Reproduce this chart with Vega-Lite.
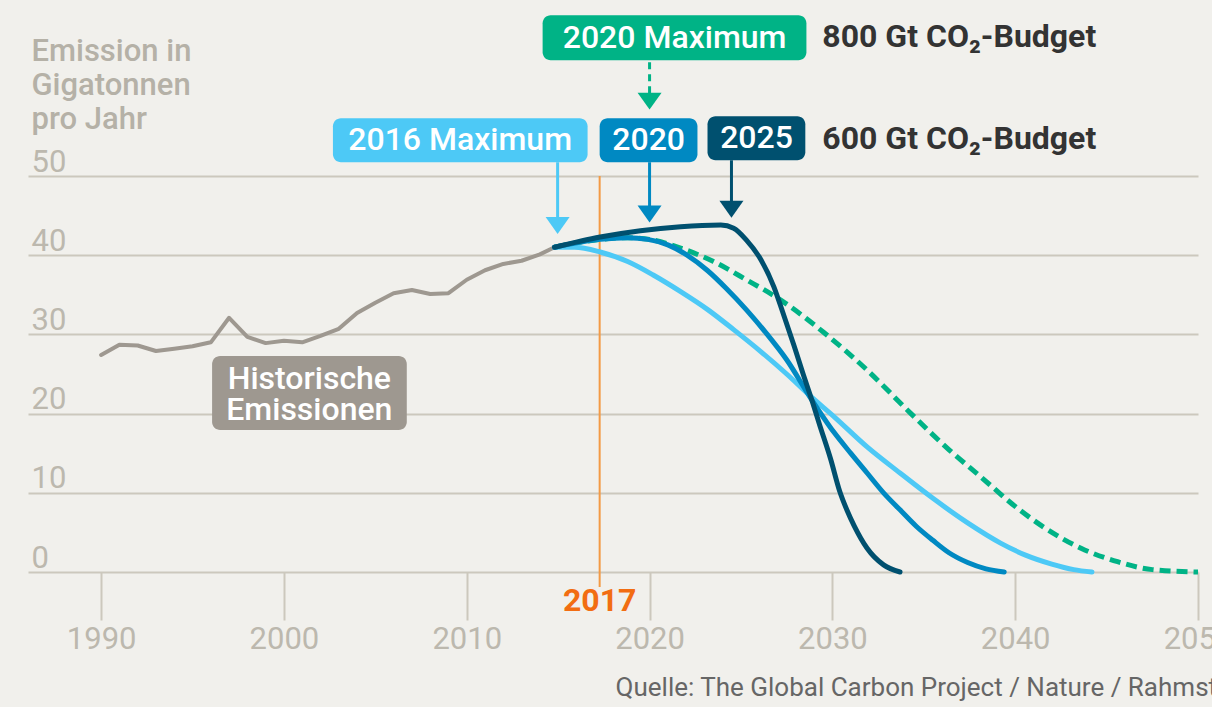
{
  "$schema": "https://vega.github.io/schema/vega-lite/v6.json",
  "width": 1170,
  "height": 396,
  "autosize": {"type": "none"},
  "padding": {"left": 28, "top": 176, "right": 14, "bottom": 135},
  "background": "#f1f0ec",
  "config": {"font": "Roboto", "view": {"stroke": null}},
  "resolve": {"axis": {"x": "independent", "y": "independent"}},
  "data": {"values": [{}]},
  "datasets": {
    "lines": [
      {"key": "hist", "year": 1990, "value": 27.4},
      {"key": "hist", "year": 1991, "value": 28.7},
      {"key": "hist", "year": 1992, "value": 28.6},
      {"key": "hist", "year": 1993, "value": 27.9},
      {"key": "hist", "year": 1994, "value": 28.2},
      {"key": "hist", "year": 1995, "value": 28.5},
      {"key": "hist", "year": 1996, "value": 29.0},
      {"key": "hist", "year": 1997, "value": 32.1},
      {"key": "hist", "year": 1998, "value": 29.7},
      {"key": "hist", "year": 1999, "value": 28.9},
      {"key": "hist", "year": 2000, "value": 29.2},
      {"key": "hist", "year": 2001, "value": 29.0},
      {"key": "hist", "year": 2002, "value": 29.8},
      {"key": "hist", "year": 2003, "value": 30.7},
      {"key": "hist", "year": 2004, "value": 32.7},
      {"key": "hist", "year": 2005, "value": 34.0},
      {"key": "hist", "year": 2006, "value": 35.2},
      {"key": "hist", "year": 2007, "value": 35.6},
      {"key": "hist", "year": 2008, "value": 35.1},
      {"key": "hist", "year": 2009, "value": 35.2},
      {"key": "hist", "year": 2010, "value": 36.9},
      {"key": "hist", "year": 2011, "value": 38.1},
      {"key": "hist", "year": 2012, "value": 38.9},
      {"key": "hist", "year": 2013, "value": 39.3},
      {"key": "hist", "year": 2014, "value": 40.1},
      {"key": "hist", "year": 2014.8, "value": 41.0},

      {"key": "m800", "year": 2014.8, "value": 41.0},
      {"key": "m800", "year": 2017.3, "value": 42.0},
      {"key": "m800", "year": 2018.8, "value": 42.2},
      {"key": "m800", "year": 2020.0, "value": 42.0},
      {"key": "m800", "year": 2021.7, "value": 40.9},
      {"key": "m800", "year": 2023.5, "value": 39.2},
      {"key": "m800", "year": 2025.3, "value": 36.9},
      {"key": "m800", "year": 2027.2, "value": 34.3},
      {"key": "m800", "year": 2029.5, "value": 30.3},
      {"key": "m800", "year": 2031.9, "value": 25.5},
      {"key": "m800", "year": 2034.3, "value": 20.0},
      {"key": "m800", "year": 2036.4, "value": 15.4},
      {"key": "m800", "year": 2038.1, "value": 12.05},
      {"key": "m800", "year": 2040.1, "value": 8.1},
      {"key": "m800", "year": 2041.6, "value": 5.6},
      {"key": "m800", "year": 2043.6, "value": 3.0},
      {"key": "m800", "year": 2045.6, "value": 1.3},
      {"key": "m800", "year": 2047.5, "value": 0.3},
      {"key": "m800", "year": 2050.0, "value": 0.0},

      {"key": "s2016", "year": 2014.8, "value": 41.0},
      {"key": "s2016", "year": 2015.9, "value": 41.0},
      {"key": "s2016", "year": 2017.3, "value": 40.4},
      {"key": "s2016", "year": 2018.8, "value": 39.2},
      {"key": "s2016", "year": 2020.2, "value": 37.5},
      {"key": "s2016", "year": 2021.7, "value": 35.4},
      {"key": "s2016", "year": 2023.2, "value": 33.1},
      {"key": "s2016", "year": 2024.6, "value": 30.6},
      {"key": "s2016", "year": 2026.1, "value": 27.8},
      {"key": "s2016", "year": 2027.5, "value": 25.0},
      {"key": "s2016", "year": 2028.8, "value": 22.2},
      {"key": "s2016", "year": 2030.1, "value": 19.6},
      {"key": "s2016", "year": 2031.9, "value": 15.8},
      {"key": "s2016", "year": 2033.7, "value": 12.5},
      {"key": "s2016", "year": 2035.5, "value": 9.3},
      {"key": "s2016", "year": 2037.4, "value": 6.2},
      {"key": "s2016", "year": 2039.2, "value": 3.65},
      {"key": "s2016", "year": 2040.6, "value": 2.1},
      {"key": "s2016", "year": 2042.0, "value": 1.0},
      {"key": "s2016", "year": 2043.2, "value": 0.3},
      {"key": "s2016", "year": 2044.2, "value": 0.0},

      {"key": "s2020", "year": 2014.8, "value": 41.0},
      {"key": "s2020", "year": 2017.3, "value": 42.0},
      {"key": "s2020", "year": 2018.8, "value": 42.2},
      {"key": "s2020", "year": 2019.9, "value": 42.0},
      {"key": "s2020", "year": 2021.0, "value": 41.3},
      {"key": "s2020", "year": 2022.05, "value": 40.0},
      {"key": "s2020", "year": 2023.15, "value": 38.1},
      {"key": "s2020", "year": 2024.2, "value": 35.8},
      {"key": "s2020", "year": 2025.3, "value": 33.1},
      {"key": "s2020", "year": 2026.4, "value": 30.1},
      {"key": "s2020", "year": 2027.5, "value": 26.8},
      {"key": "s2020", "year": 2028.8, "value": 22.0},
      {"key": "s2020", "year": 2030.1, "value": 17.6},
      {"key": "s2020", "year": 2031.0, "value": 15.0},
      {"key": "s2020", "year": 2031.9, "value": 12.5},
      {"key": "s2020", "year": 2032.8, "value": 10.0},
      {"key": "s2020", "year": 2033.7, "value": 7.85},
      {"key": "s2020", "year": 2034.6, "value": 5.75},
      {"key": "s2020", "year": 2035.5, "value": 4.0},
      {"key": "s2020", "year": 2036.4, "value": 2.4},
      {"key": "s2020", "year": 2037.4, "value": 1.2},
      {"key": "s2020", "year": 2038.4, "value": 0.4},
      {"key": "s2020", "year": 2039.4, "value": 0.0},

      {"key": "s2025", "year": 2014.8, "value": 41.0},
      {"key": "s2025", "year": 2017.3, "value": 42.3},
      {"key": "s2025", "year": 2019.5, "value": 43.1},
      {"key": "s2025", "year": 2021.7, "value": 43.6},
      {"key": "s2025", "year": 2023.9, "value": 43.8},
      {"key": "s2025", "year": 2024.6, "value": 43.4},
      {"key": "s2025", "year": 2025.3, "value": 41.9},
      {"key": "s2025", "year": 2026.1, "value": 39.4},
      {"key": "s2025", "year": 2026.8, "value": 36.0},
      {"key": "s2025", "year": 2027.3, "value": 32.7},
      {"key": "s2025", "year": 2027.9, "value": 28.6},
      {"key": "s2025", "year": 2028.4, "value": 25.0},
      {"key": "s2025", "year": 2028.85, "value": 21.9},
      {"key": "s2025", "year": 2029.3, "value": 18.6},
      {"key": "s2025", "year": 2029.9, "value": 14.3},
      {"key": "s2025", "year": 2030.4, "value": 10.2},
      {"key": "s2025", "year": 2030.8, "value": 7.8},
      {"key": "s2025", "year": 2031.2, "value": 5.8},
      {"key": "s2025", "year": 2031.9, "value": 3.0},
      {"key": "s2025", "year": 2032.8, "value": 0.9},
      {"key": "s2025", "year": 2033.7, "value": 0.0}
    ],
    "boxes": [
      {"key": "m800", "label": "2020 Maximum", "x0": 2014.15, "x1": 2028.58, "y0": 64.6, "y1": 70.3, "lx": 2021.37, "ly": 67.44},
      {"key": "s2016", "label": "2016 Maximum", "x0": 2002.68, "x1": 2016.61, "y0": 51.74, "y1": 57.29, "lx": 2009.64, "ly": 54.51},
      {"key": "s2020", "label": "2020", "x0": 2017.27, "x1": 2022.62, "y0": 51.74, "y1": 57.29, "lx": 2019.95, "ly": 54.51},
      {"key": "s2025", "label": "2025", "x0": 2023.17, "x1": 2028.52, "y0": 51.99, "y1": 57.54, "lx": 2025.85, "ly": 54.77},
      {"key": "hist", "label": "Historische\nEmissionen", "x0": 1996.07, "x1": 2006.72, "y0": 17.94, "y1": 27.27, "lx": 2001.39, "ly": 24.4}
    ],
    "arrows": [
      {"key": "s2016", "x": 2014.97, "ytop": 51.74, "ybot": 44.5, "yhead": 43.75},
      {"key": "s2020", "x": 2020.0, "ytop": 51.74, "ybot": 46.0, "yhead": 45.2},
      {"key": "s2025", "x": 2024.48, "ytop": 51.99, "ybot": 46.6, "yhead": 45.8},
      {"key": "m800", "x": 2020.0, "ytop": 64.35, "ybot": 60.3, "yhead": 59.45}
    ]
  },
  "layer": [
    {
      "data": {"name": "lines"},
      "transform": [{"filter": "datum.key === 'hist'"}],
      "mark": {"type": "line", "strokeWidth": 4, "strokeJoin": "round", "strokeCap": "round"},
      "encoding": {
        "x": {"field": "year", "type": "quantitative",
          "scale": {"domain": [1986, 2050], "nice": false, "zero": false},
          "axis": {"values": [1990, 2000, 2010, 2020, 2030, 2040, 2050], "format": "d", "title": null,
            "domain": false, "grid": false, "ticks": true, "tickSize": 48, "tickColor": "#ccc8bd", "tickWidth": 2,
            "labelFont": "Roboto", "labelFontSize": 31, "labelColor": "#bcb8ae", "labelPadding": 28,
            "labelBaseline": "alphabetic", "labelFlush": false, "labelOverlap": false, "labelBound": false}},
        "y": {"field": "value", "type": "quantitative",
          "scale": {"domain": [0, 50], "nice": false, "zero": false},
          "axis": {"values": [0, 10, 20, 30, 40, 50], "grid": true, "gridColor": "#ccc8bd", "gridWidth": 2,
            "domain": false, "ticks": false, "tickSize": 0, "labelAlign": "left", "labelBaseline": "alphabetic",
            "labelPadding": -3, "labelOffset": -5, "labelFont": "Roboto", "labelFontSize": 31, "labelColor": "#bcb8ae",
            "title": ["Emission in", "Gigatonnen", "pro Jahr"], "titleAngle": 0, "titleAlign": "left",
            "titleBaseline": "alphabetic", "titleX": 3, "titleY": -116, "titleFont": "Roboto", "titleFontSize": 31,
            "titleFontWeight": 500, "titleColor": "#b5b1a7", "titleLineHeight": 34}},
        "color": {"field": "key", "type": "nominal", "legend": null,
          "scale": {"domain": ["hist", "s2016", "s2020", "s2025", "m800"], "range": ["#9e9890", "#4dc9f6", "#0089c2", "#00506f", "#00b386"]}}
      }
    },
    {
      "mark": {"type": "rule", "color": "#f39a45", "strokeWidth": 2},
      "encoding": {
        "x": {"datum": 2017.27, "type": "quantitative", "scale": {"domain": [1986, 2050], "nice": false, "zero": false}, "axis": null},
        "y": {"datum": 50, "type": "quantitative", "scale": {"domain": [0, 50], "nice": false, "zero": false}, "axis": null},
        "y2": {"datum": -1.9}
      }
    },
    {
      "data": {"name": "lines"},
      "transform": [{"filter": "datum.key === 'm800'"}],
      "mark": {"type": "line", "strokeWidth": 5, "strokeDash": [11, 6], "interpolate": "monotone"},
      "encoding": {
        "x": {"field": "year", "type": "quantitative", "scale": {"domain": [1986, 2050], "nice": false, "zero": false}, "axis": null},
        "y": {"field": "value", "type": "quantitative", "scale": {"domain": [0, 50], "nice": false, "zero": false}, "axis": null},
        "color": {"field": "key", "type": "nominal", "legend": null}
      }
    },
    {
      "data": {"name": "lines"},
      "transform": [{"filter": "datum.key !== 'hist' && datum.key !== 'm800'"}],
      "mark": {"type": "line", "strokeWidth": 5, "strokeCap": "round", "interpolate": "monotone"},
      "encoding": {
        "x": {"field": "year", "type": "quantitative", "scale": {"domain": [1986, 2050], "nice": false, "zero": false}, "axis": null},
        "y": {"field": "value", "type": "quantitative", "scale": {"domain": [0, 50], "nice": false, "zero": false}, "axis": null},
        "color": {"field": "key", "type": "nominal", "legend": null},
        "order": {"field": "year", "type": "quantitative"}
      }
    },
    {
      "data": {"name": "boxes"},
      "mark": {"type": "rect", "cornerRadius": 8},
      "encoding": {
        "x": {"field": "x0", "type": "quantitative", "scale": {"domain": [1986, 2050], "nice": false, "zero": false}, "axis": null},
        "x2": {"field": "x1"},
        "y": {"field": "y0", "type": "quantitative", "scale": {"domain": [0, 50], "nice": false, "zero": false}, "axis": null},
        "y2": {"field": "y1"},
        "color": {"field": "key", "type": "nominal", "legend": null}
      }
    },
    {
      "data": {"name": "boxes"},
      "mark": {"type": "text", "color": "white", "font": "Roboto", "fontSize": 32, "fontWeight": 500, "align": "center", "baseline": "middle", "lineBreak": "\n", "lineHeight": 31},
      "encoding": {
        "x": {"field": "lx", "type": "quantitative", "scale": {"domain": [1986, 2050], "nice": false, "zero": false}, "axis": null},
        "y": {"field": "ly", "type": "quantitative", "scale": {"domain": [0, 50], "nice": false, "zero": false}, "axis": null},
        "text": {"field": "label"}
      }
    },
    {
      "data": {"name": "arrows"},
      "transform": [{"filter": "datum.key !== 'm800'"}],
      "mark": {"type": "rule", "strokeWidth": 3},
      "encoding": {
        "x": {"field": "x", "type": "quantitative", "scale": {"domain": [1986, 2050], "nice": false, "zero": false}, "axis": null},
        "y": {"field": "ytop", "type": "quantitative", "scale": {"domain": [0, 50], "nice": false, "zero": false}, "axis": null},
        "y2": {"field": "ybot"},
        "color": {"field": "key", "type": "nominal", "legend": null}
      }
    },
    {
      "data": {"name": "arrows"},
      "transform": [{"filter": "datum.key === 'm800'"}],
      "mark": {"type": "rule", "strokeWidth": 3, "strokeDash": [7, 5]},
      "encoding": {
        "x": {"field": "x", "type": "quantitative", "scale": {"domain": [1986, 2050], "nice": false, "zero": false}, "axis": null},
        "y": {"field": "ytop", "type": "quantitative", "scale": {"domain": [0, 50], "nice": false, "zero": false}, "axis": null},
        "y2": {"field": "ybot"},
        "color": {"field": "key", "type": "nominal", "legend": null}
      }
    },
    {
      "data": {"name": "arrows"},
      "mark": {"type": "point", "shape": "M-1,-0.7L1,-0.7L0,0.7Z", "size": 576, "filled": true, "opacity": 1, "strokeWidth": 0},
      "encoding": {
        "x": {"field": "x", "type": "quantitative", "scale": {"domain": [1986, 2050], "nice": false, "zero": false}, "axis": null},
        "y": {"field": "yhead", "type": "quantitative", "scale": {"domain": [0, 50], "nice": false, "zero": false}, "axis": null},
        "color": {"field": "key", "type": "nominal", "legend": null}
      }
    },
    {
      "mark": {"type": "text", "text": "800 Gt CO₂-Budget", "color": "#333333", "font": "Roboto", "fontSize": 32, "fontWeight": "bold", "align": "left", "baseline": "middle"},
      "encoding": {
        "x": {"datum": 2029.45, "type": "quantitative", "scale": {"domain": [1986, 2050], "nice": false, "zero": false}, "axis": null},
        "y": {"datum": 67.5, "type": "quantitative", "scale": {"domain": [0, 50], "nice": false, "zero": false}, "axis": null}
      }
    },
    {
      "mark": {"type": "text", "text": "600 Gt CO₂-Budget", "color": "#333333", "font": "Roboto", "fontSize": 32, "fontWeight": "bold", "align": "left", "baseline": "middle"},
      "encoding": {
        "x": {"datum": 2029.45, "type": "quantitative", "scale": {"domain": [1986, 2050], "nice": false, "zero": false}, "axis": null},
        "y": {"datum": 54.64, "type": "quantitative", "scale": {"domain": [0, 50], "nice": false, "zero": false}, "axis": null}
      }
    },
    {
      "mark": {"type": "text", "text": "2017", "color": "#f26d12", "font": "Roboto", "fontSize": 32, "fontWeight": "bold", "align": "center", "baseline": "middle"},
      "encoding": {
        "x": {"datum": 2017.27, "type": "quantitative", "scale": {"domain": [1986, 2050], "nice": false, "zero": false}, "axis": null},
        "y": {"datum": -3.6, "type": "quantitative", "scale": {"domain": [0, 50], "nice": false, "zero": false}, "axis": null}
      }
    },
    {
      "mark": {"type": "text", "text": "Quelle: The Global Carbon Project / Nature / Rahmstorf", "color": "#666666", "font": "Roboto", "fontSize": 26, "align": "left", "baseline": "alphabetic"},
      "encoding": {
        "x": {"datum": 2018.14, "type": "quantitative", "scale": {"domain": [1986, 2050], "nice": false, "zero": false}, "axis": null},
        "y": {"datum": -15.7, "type": "quantitative", "scale": {"domain": [0, 50], "nice": false, "zero": false}, "axis": null}
      }
    }
  ]
}
